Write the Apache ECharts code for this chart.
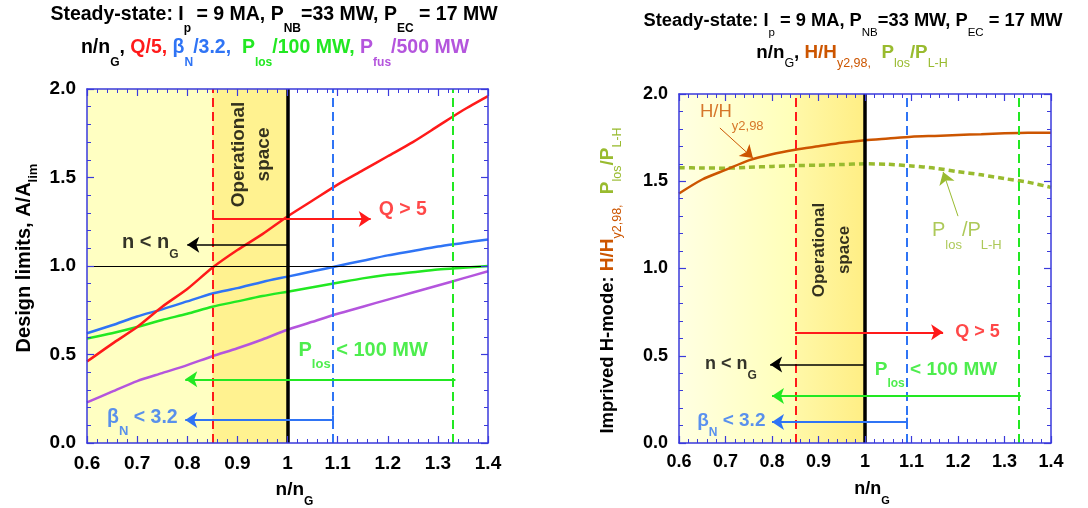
<!DOCTYPE html>
<html><head><meta charset="utf-8">
<script src="https://cdn.jsdelivr.net/npm/echarts@6/dist/echarts.min.js"></script>
<style>html,body{margin:0;padding:0;background:#fff}#c{width:1088px;height:508px}</style>
</head><body><div id="c"></div>
<script>
// ---------- data ----------
const nRatio     = [0.6, 0.65, 0.7, 0.75, 0.8, 0.85, 0.9, 0.95, 1.0, 1.05, 1.1, 1.15, 1.2, 1.25, 1.3, 1.35, 1.4];
const qOver5     = [0.46, 0.56, 0.655, 0.77, 0.87, 0.99, 1.09, 1.18, 1.28, 1.37, 1.46, 1.54, 1.62, 1.70, 1.79, 1.88, 1.96];
const betaN32    = [0.62, 0.665, 0.715, 0.755, 0.80, 0.845, 0.875, 0.91, 0.94, 0.97, 1.0, 1.03, 1.06, 1.085, 1.11, 1.13, 1.15];
const pLoss100   = [0.59, 0.62, 0.655, 0.695, 0.73, 0.77, 0.80, 0.83, 0.855, 0.88, 0.905, 0.93, 0.95, 0.965, 0.98, 0.99, 1.0];
const pFus500    = [0.23, 0.29, 0.35, 0.395, 0.44, 0.49, 0.535, 0.585, 0.64, 0.685, 0.73, 0.77, 0.81, 0.85, 0.89, 0.93, 0.97];
const hFactor    = [1.43, 1.51, 1.565, 1.62, 1.655, 1.68, 1.70, 1.72, 1.735, 1.745, 1.755, 1.76, 1.765, 1.77, 1.775, 1.778, 1.778];
const pLossRatio = [1.578, 1.576, 1.575, 1.58, 1.585, 1.59, 1.592, 1.596, 1.60, 1.597, 1.588, 1.575, 1.555, 1.537, 1.515, 1.495, 1.465];
const xRange = [0.6, 1.4], xStep = 0.1;
const yRange = [0, 2.0], yStep = 0.5;
const limitQ = 0.85, limitGreenwald = 1.0, limitBeta = 1.09, limitPloss = 1.335;

// ---------- styles ----------
const F = '"Liberation Sans", Arial, Helvetica, sans-serif';
const C = {red:'#FF1A1A', blue:'#2F74F5', green:'#22E822', purple:'#B455DD', orange:'#CC5500', olive:'#99BB2F', axis:'#3A3ADC', black:'#000'};
function tok(color, size, weight, lh, sub){
  return {color:color, fill:color, fontSize:size, fontWeight:weight, fontFamily:F, lineHeight:lh, verticalAlign: sub ? 'bottom' : 'middle'};
}
function pair(color, size, subSize, offset, weight, subWeight){
  const subLH = subSize + 1;
  const L = 2*offset + subLH;
  return [tok(color, size, weight, L, false), tok(color, subSize, subWeight || weight, subLH, true)];
}
function richSet(defs){
  const r = {};
  for (const k in defs){ const p = pair.apply(null, defs[k]); r[k]=p[0]; r[k+'s']=p[1]; }
  return r;
}
const zip = (xs, ys) => xs.map((x,i)=>[x, ys[i]]);
const fmtX = v => Math.abs(v-1) < 1e-9 ? '1' : v.toFixed(1);

// ---------- axes ----------
const grids = [
  {left:87, top:89, width:401, height:354, outerBoundsMode:'none', containLabel:false},
  {left:679, top:94, width:372, height:349, outerBoundsMode:'none', containLabel:false}
];
function xAxes(gi, labelSize, margin, name, nameRich, nameGap){
  const common = {type:'value', gridIndex:gi, min:xRange[0], max:xRange[1], interval:xStep, z:5,
    axisLine:{show:true, onZero:false, lineStyle:{color:C.axis, width:1.5}},
    axisTick:{show:true, inside:true, length:7, lineStyle:{color:C.axis, width:1.2}},
    minorTick:{show:true, splitNumber:5, length:4, lineStyle:{color:C.axis, width:1}},
    splitLine:{show:false}};
  return [
    Object.assign({}, common, {position:'bottom',
      axisLabel:{show:true, color:'#000', fontFamily:F, fontWeight:'bold', fontSize:labelSize, margin:margin, formatter:fmtX},
      name:name, nameLocation:'middle', nameGap:nameGap, nameTextStyle:{rich:nameRich, padding:[0,0,0,14]}}),
    Object.assign({}, common, {position:'top', axisLabel:{show:false}})
  ];
}
function yAxes(gi, labelSize, name, nameRich, nameGap, namePad){
  const common = {type:'value', gridIndex:gi, min:yRange[0], max:yRange[1], interval:yStep, z:5,
    axisLine:{show:true, onZero:false, lineStyle:{color:C.axis, width:1.5}},
    axisTick:{show:true, inside:true, length:7, lineStyle:{color:C.axis, width:1.2}},
    minorTick:{show:true, splitNumber:5, length:4, lineStyle:{color:C.axis, width:1}},
    splitLine:{show:false}};
  return [
    Object.assign({}, common, {position:'left',
      axisLabel:{show:true, color:'#000', fontFamily:F, fontWeight:'bold', fontSize:labelSize, margin:11, formatter:v=>v.toFixed(1)},
      name:name, nameLocation:'middle', nameRotate:90, nameGap:nameGap, nameTextStyle:{rich:nameRich, padding:namePad}}),
    Object.assign({}, common, {position:'right', axisLabel:{show:false}})
  ];
}
const xA = xAxes(0, 19, 11, '{k|n/n}{ks|G}', richSet({k:['#000',19,12,12,'bold']}), 28)
  .concat(xAxes(1, 18, 10, '{k|n/n}{ks|G}', richSet({k:['#000',18,11,11,'bold']}), 29));
const yA = yAxes(0, 19, '{k|Design limits, A/A}{ks|lim}', richSet({k:['#000',20,13,9,'bold']}), 47, [0,0,0,16])
  .concat(yAxes(1, 18, '{k|Imprived H-mode: }{o|H/H}{os|y2,98}{os|,}{k|  }{g|P}{gs|los}{g|/P}{gs|L-H}',
     richSet({k:['#000',18.5,12,9,'bold'], o:[C.orange,19,12.5,9,'bold','normal'], g:[C.olive,19,12.5,9,'bold','normal']}), 55, [0,24,0,0]));

// ---------- helpers for marks ----------
function curve(gi, ys, color, width, type){
  return {type:'line', xAxisIndex:gi*2, yAxisIndex:gi*2, data:zip(nRatio, ys), showSymbol:false, smooth:0.25,
    silent:true, animation:false, z:4, lineStyle:{color:color, width:width, type:type||'solid'}};
}
function vline(x, color, width, type){
  return {xAxis:x, lineStyle:{color:color, width:width, type:type}};
}
function seg(x1, y1, x2, y2, color, width){
  return [{coord:[x1,y1], lineStyle:{color:color, width:width, type:'solid'}}, {coord:[x2,y2]}];
}
function note(gi, x, y, fmt, rich, extra){
  return {type:'scatter', xAxisIndex:gi*2, yAxisIndex:gi*2, data:[[x,y]], symbolSize:0, silent:true, animation:false, z:10,
    label:Object.assign({show:true, position:'right', distance:0, formatter:fmt, rich:rich}, extra||{})};
}
function background(gi, lightColor, darkColor, vLines, arrows, ticks){
  return [
    {type:'line', xAxisIndex:gi*2, yAxisIndex:gi*2, data:[], silent:true, animation:false, z:1,
      markArea:{silent:true, data:[
        [{xAxis:xRange[0], itemStyle:{color:lightColor}}, {xAxis:limitQ}],
        [{xAxis:limitQ, itemStyle:{color:darkColor}}, {xAxis:limitGreenwald}]
      ]}},
    {type:'line', xAxisIndex:gi*2, yAxisIndex:gi*2, data:[], silent:true, animation:false, z:6,
      markLine:{silent:true, symbol:'none', animation:false, label:{show:false}, data:vLines.concat(ticks)}},
    {type:'line', xAxisIndex:gi*2, yAxisIndex:gi*2, data:[], silent:true, animation:false, z:6,
      markLine:{silent:true, symbol:['none','arrow'], symbolSize:12, animation:false, label:{show:false}, data:arrows}}
  ];
}
const grad = (a,b) => ({type:'linear', x:0, y:0, x2:1, y2:0, colorStops:[{offset:0,color:a},{offset:1,color:b}]});

// ---------- left chart ----------
const leftVLines = [
  vline(limitQ, C.red, 2, [9,5]),
  vline(limitBeta, C.blue, 2, [9,5]),
  vline(limitPloss, C.green, 2, [9,5]),
  vline(limitGreenwald, '#000', 3.5, 'solid'),
  {yAxis:1.0, lineStyle:{color:'#000', width:1, type:'solid'}}
];
const leftArrows = [
  seg(limitQ, 1.265, 1.166, 1.265, C.red, 2),
  seg(limitGreenwald, 1.12, 0.80, 1.12, '#000', 1.5),
  seg(limitPloss, 0.36, 0.796, 0.36, C.green, 2),
  seg(limitBeta, 0.13, 0.796, 0.13, C.blue, 2)
];
const leftTicks = [ seg(limitBeta, 0.103, limitBeta, 0.157, C.blue, 2) ];

// ---------- right chart ----------
const rightVLines = [
  vline(limitQ, C.red, 2, [9,5]),
  vline(limitBeta, C.blue, 2, [9,5]),
  vline(limitPloss, C.green, 2, [9,5]),
  vline(limitGreenwald, '#000', 3.5, 'solid')
];
const rightArrows = [
  seg(limitQ, 0.634, 1.168, 0.634, C.red, 2),
  seg(limitGreenwald, 0.45, 0.796, 0.45, '#000', 1.5),
  seg(limitPloss, 0.27, 0.80, 0.27, C.green, 2),
  seg(limitBeta, 0.12, 0.80, 0.12, C.blue, 2),
  seg(0.688, 1.805, 0.759, 1.633, C.orange, 1),
  seg(1.20, 1.30, 1.168, 1.553, C.olive, 1)
];
const rightTicks = [ seg(limitBeta, 0.095, limitBeta, 0.145, C.blue, 2) ];

const opSpace = (size, lh) => ({formatter:'Operational\nspace', position:'inside', rotate:90, align:'center', verticalAlign:'middle',
  color:'#000', fontFamily:F, fontWeight:'bold', fontSize:size, lineHeight:lh});

const series = []
  .concat(background(0, '#FFFFC2', '#FFF290', leftVLines, leftArrows, leftTicks))
  .concat([
    curve(0, pFus500, C.purple, 2.5),
    curve(0, pLoss100, C.green, 2.5),
    curve(0, betaN32, C.blue, 2.5),
    curve(0, qOver5, C.red, 2.5),
    note(0, 0.928, 1.63, 'Operational\nspace', null, opSpace(19, 25)),
    note(0, 1.182, 1.316, '{r|Q > 5}', {r:tok(C.red,19.5,'bold',22,false)}),
    note(0, 0.67, 1.135, '{k|n < n}{ks|G}', richSet({k:['#000',20,12,12,'bold']})),
    note(0, 1.022, 0.525, '{g|P}{gs|los}{g| < 100 MW}', richSet({g:[C.green,20,13,14,'bold']})),
    note(0, 0.64, 0.141, '{b|β}{bs|N}{b| < 3.2}', richSet({b:[C.blue,19.5,13,13,'bold']}))
  ])
  .concat(background(1, grad('#FFFFE2','#FFFFB8'), grad('#FFF8A8','#FFEE84'), rightVLines, rightArrows, rightTicks))
  .concat([
    curve(1, pLossRatio, C.olive, 3.5, [6,4]),
    curve(1, hFactor, C.orange, 2.5),
    note(1, 0.929, 1.106, 'Operational\nspace', null, opSpace(17, 25)),
    note(1, 0.645, 1.897, '{o|H/H}{os|y2,98}', richSet({o:[C.orange,18.5,13,14,'normal']})),
    note(1, 1.144, 1.215, '{g|P}{gs|los}{g|/P}{gs|L-H}', richSet({g:[C.olive,20,13,14,'normal']})),
    note(1, 1.194, 0.636, '{r|Q > 5}', {r:tok(C.red,18,'bold',20,false)}),
    note(1, 0.656, 0.45, '{k|n < n}{ks|G}', richSet({k:['#000',18,12,11,'bold']})),
    note(1, 1.021, 0.418, '{g|P}{gs|los}{g| < 100 MW}', richSet({g:[C.green,19,12,13,'bold']})),
    note(1, 0.639, 0.13, '{b|β}{bs|N}{b| < 3.2}', richSet({b:[C.blue,19,12,12,'bold']}))
  ]);

function gtext(x, y, text, rich){
  return {type:'text', x:x, y:y, silent:true, z:20,
    style:{text:text, rich:rich, align:'center', verticalAlign:'middle', textAlign:'center', textVerticalAlign:'middle'}};
}
const graphic = [
  gtext(274, 15, '{k|Steady-state: I}{ks|p}{k| = 9 MA, P}{ks|NB}{k|=33 MW, P}{ks|EC}{k| = 17 MW}', richSet({k:['#000',19.5,12,13,'bold']})),
  gtext(275, 48, '{k|n/n}{ks|G}{k|, }{r|Q/5, }{b|β}{bs|N}{b|/3.2,  }{g|P}{gs|los}{g|/100 MW, }{p|P}{ps|fus}{p|/500 MW}',
    richSet({k:['#000',19.5,12,14,'bold'], r:[C.red,19.5,12,14,'bold'], b:[C.blue,19.5,12,14,'bold'], g:[C.green,19.5,12,14,'bold'], p:[C.purple,19.5,12,14,'bold']})),
  gtext(853, 21, '{k|Steady-state: I}{ks|p}{k| = 9 MA, P}{ks|NB}{k|=33 MW, P}{ks|EC}{k| = 17 MW}', richSet({k:['#000',18.3,11.5,12,'bold','normal']})),
  gtext(852, 53, '{k|n/n}{ks|G}{k|, }{o|H/H}{os|y2,98}{os|,}{k|  }{g|P}{gs|los}{g|/P}{gs|L-H}',
    richSet({k:['#000',18.8,12.5,10,'bold','normal'], o:[C.orange,18.8,12.5,10,'bold','normal'], g:[C.olive,18.8,12.5,10,'bold','normal']}))
];

const chart = echarts.init(document.getElementById('c'), null, {renderer:'canvas'});
chart.setOption({
  animation:false,
  backgroundColor:'#fff',
  grid:grids,
  xAxis:xA,
  yAxis:yA,
  series:series,
  graphic:graphic
});
</script>
</body></html>
